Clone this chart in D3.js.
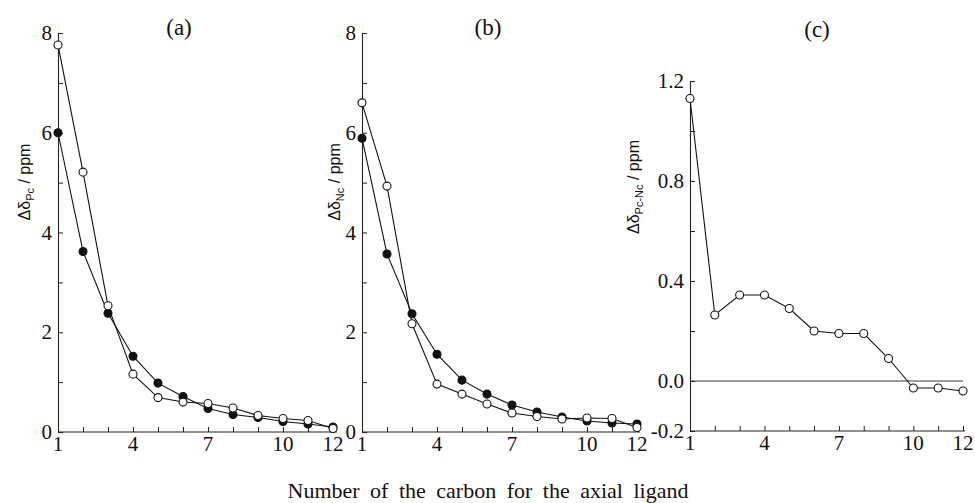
<!DOCTYPE html>
<html><head><meta charset="utf-8">
<script src="https://cdn.jsdelivr.net/npm/d3@7"></script>
<style>
body{margin:0;background:#fff;}
svg{display:block;}
</style></head>
<body>
<svg id="chart" width="975" height="503"></svg>
<script>
const carbons = [1,2,3,4,5,6,7,8,9,10,11,12];
const aOpen   = [7.76,5.21,2.53,1.16,0.69,0.60,0.57,0.48,0.33,0.27,0.23,0.07];
const aFilled = [6.00,3.62,2.38,1.52,0.98,0.71,0.47,0.35,0.29,0.21,0.16,0.10];
const bOpen   = [6.60,4.93,2.17,0.96,0.76,0.56,0.38,0.31,0.26,0.28,0.27,0.09];
const bFilled = [5.89,3.57,2.37,1.56,1.04,0.76,0.54,0.40,0.30,0.22,0.18,0.16];
const cOpen   = [1.13,0.264,0.344,0.344,0.29,0.20,0.19,0.19,0.09,-0.028,-0.028,-0.04];
const xTickLabels = [1,4,7,10,12];
const yTicksAB = [0,1,2,3,4,5,6,7,8];
const yLabelsAB = [0,2,4,6,8];
const yTicksC = [-0.2,0,0.2,0.4,0.6,0.8,1.0,1.2];
const yLabelsC = [-0.2,0,0.4,0.8,1.2];
const panelTitles = ["(a)","(b)","(c)"];
const xTitle = "Number of the carbon for the axial ligand";

const svg = d3.select("#chart");
const serif = "Liberation Serif";
const sans = "Liberation Sans";

const panels = [
  {x0:58, x1:333, y0:432, y1:33, dom:[0,8], ticks:yTicksAB, labels:yLabelsAB, fmt:d=>String(d),
   series:[{v:aFilled,fill:"#111"},{v:aOpen,fill:"#fff"}], title:panelTitles[0], tx:179, ty:27,
   yt:{x:30,y:182,sub:"Pc"}, axisRight:337},
  {x0:362, x1:637, y0:432, y1:33, dom:[0,8], ticks:yTicksAB, labels:yLabelsAB, fmt:d=>String(d),
   series:[{v:bFilled,fill:"#111"},{v:bOpen,fill:"#fff"}], title:panelTitles[1], tx:488, ty:27,
   yt:{x:340,y:182,sub:"Nc"}, axisRight:640},
  {x0:690, x1:963, y0:431, y1:81, dom:[-0.2,1.2], ticks:yTicksC, labels:yLabelsC, fmt:d=>d3.format(".1f")(d).replace("−","-"),
   series:[{v:cOpen,fill:"#fff"}], title:panelTitles[2], tx:817, ty:29,
   yt:{x:639,y:187,sub:"Pc-Nc"}, axisRight:965, zero:true}
];

panels.forEach(p => {
  const x = d3.scaleLinear().domain([1,12]).range([p.x0,p.x1]);
  const y = d3.scaleLinear().domain(p.dom).range([p.y0,p.y1]);
  const g = svg.append("g");

  const xa = g.append("g").attr("transform",`translate(0,${p.y0})`)
    .call(d3.axisBottom(x).tickValues(carbons).tickSizeInner(-5).tickSizeOuter(0).tickFormat(""));
  xa.select(".domain").attr("d",`M${p.x0},0H${p.axisRight}`);
  const ya = g.append("g").attr("transform",`translate(${p.x0},0)`)
    .call(d3.axisLeft(y).tickValues(p.ticks).tickSizeInner(-5).tickSizeOuter(0).tickFormat(""));
  g.selectAll(".domain").attr("stroke","#222").attr("stroke-width",1.1);
  g.selectAll(".tick line").attr("stroke","#222");

  // tick labels drawn from the same scales
  g.append("g").selectAll("text").data(xTickLabels).join("text")
    .attr("x", d => x(d)).attr("y", p.y0 + 19)
    .attr("text-anchor","middle")
    .style("font-family", serif).style("font-size","21px").style("fill","#111")
    .text(d => String(d));
  g.append("g").selectAll("text").data(p.labels).join("text")
    .attr("x", p.x0 - 6).attr("y", d => y(d) + 7)
    .attr("text-anchor","end")
    .style("font-family", serif).style("font-size","21px").style("fill","#111")
    .text(d => p.fmt(d));

  if (p.zero) {
    g.append("line").attr("x1",p.x0).attr("x2",p.axisRight-2).attr("y1",y(0)).attr("y2",y(0))
      .attr("stroke","#222").attr("stroke-width",0.9);
  }

  const line = d3.line().x((d,i)=>x(carbons[i])).y(d=>y(d));
  p.series.forEach(s => {
    g.append("path").datum(s.v).attr("d",line).attr("fill","none").attr("stroke","#111").attr("stroke-width",1.1);
  });
  p.series.forEach(s => {
    g.selectAll(null).data(s.v).join("circle")
      .attr("cx",(d,i)=>x(carbons[i])).attr("cy",d=>y(d)).attr("r",4)
      .attr("fill",s.fill).attr("stroke","#111").attr("stroke-width",1.1);
  });

  g.append("text").attr("x",p.tx).attr("y",p.ty + 8).attr("text-anchor","middle")
    .style("font-family",serif).style("font-size","23px").style("fill","#111").text(p.title);

  const t = g.append("text").attr("transform",`translate(${p.yt.x},${p.yt.y}) rotate(-90)`)
    .attr("text-anchor","middle").style("font-family",sans).style("font-size","16px").style("fill","#111");
  t.append("tspan").text("Δδ");
  t.append("tspan").attr("dy",4).style("font-size","11px").text(p.yt.sub);
  t.append("tspan").attr("dy",-4).text(" / ppm");
});

svg.append("text").attr("x",488).attr("y",498).attr("text-anchor","middle")
  .style("font-family",serif).style("font-size","22px").style("fill","#111").attr("word-spacing",5).text(xTitle);
</script>
</body></html>
